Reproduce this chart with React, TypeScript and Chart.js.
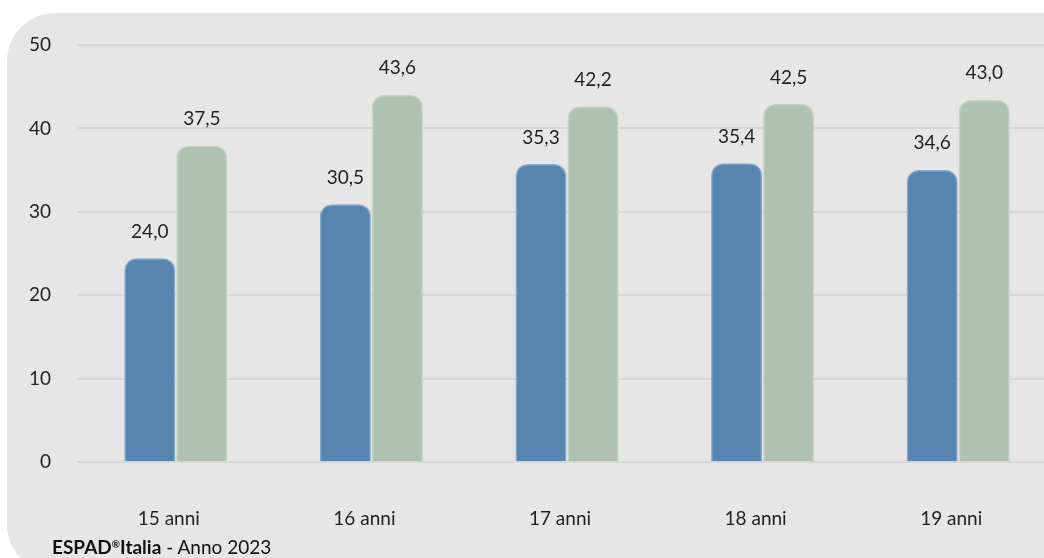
import React, { useEffect, useRef } from "react";
import { Chart, registerables } from "chart.js";

Chart.register(...registerables);

const categories = ["15 anni", "16 anni", "17 anni", "18 anni", "19 anni"];
const seriesA = [24.0, 30.5, 35.3, 35.4, 34.6];
const seriesB = [37.5, 43.6, 42.2, 42.5, 43.0];
const yTicks = [0, 10, 20, 30, 40, 50];

const FONT = "Lato, 'Open Sans', sans-serif";

const valueLabels = {
  id: "valueLabels",
  afterDatasetsDraw(chart: any) {
    const ctx = chart.ctx;
    ctx.save();
    ctx.font = `19px ${FONT}`;
    ctx.fillStyle = "#1f1f1f";
    ctx.textAlign = "center";
    ctx.textBaseline = "alphabetic";
    chart.data.datasets.forEach((ds: any, di: number) => {
      const meta = chart.getDatasetMeta(di);
      meta.data.forEach((bar: any, i: number) => {
        const v = ds.data[i] as number;
        ctx.fillText(v.toFixed(1).replace(".", ","), bar.x, bar.y - 24);
      });
    });
    ctx.restore();
  },
};

export default function App() {
  const ref = useRef<HTMLCanvasElement | null>(null);

  useEffect(() => {
    if (!ref.current) return;
    const barStyle = {
      borderWidth: 1.5,
      borderRadius: { topLeft: 12, topRight: 12, bottomLeft: 0, bottomRight: 0 },
      borderSkipped: "bottom",
      categoryPercentage: 0.532,
      barPercentage: 0.846,
      inflateAmount: 3.5,
    };
    const chart = new Chart(ref.current, {
      type: "bar",
      data: {
        labels: categories,
        datasets: [
          {
            label: "A",
            data: seriesA,
            backgroundColor: "#5885b0",
            borderColor: "#86a8cb",
            ...barStyle,
          } as any,
          {
            label: "B",
            data: seriesB,
            backgroundColor: "#afc2b2",
            borderColor: "#c3d2c5",
            ...barStyle,
          } as any,
        ],
      },
      options: {
        responsive: false,
        animation: false,
        layout: { padding: { top: 45, left: 0, right: 0, bottom: 0 } },
        plugins: {
          legend: { display: false },
          tooltip: { enabled: false },
        },
        scales: {
          x: {
            grid: { display: false, drawTicks: false },
            border: { display: false },
            ticks: {
              color: "#1f1f1f",
              font: { family: FONT, size: 19 },
              padding: 45,
              labelOffset: -7,
            },
            afterFit(scale: any) {
              scale.height = 558 - 462;
            },
          },
          y: {
            min: 0,
            max: 50,
            afterBuildTicks(scale: any) {
              scale.ticks = yTicks.map((v) => ({ value: v }));
            },
            grid: { color: "#d6d6d6", lineWidth: 2, drawTicks: false },
            border: { display: false },
            ticks: {
              color: "#1f1f1f",
              font: { family: FONT, size: 19 },
              padding: 27,
            },
            afterFit(scale: any) {
              scale.width = 78;
            },
          },
        },
      },
      plugins: [valueLabels],
    });
    return () => chart.destroy();
  }, []);

  return (
    <div
      style={{
        position: "fixed",
        left: 0,
        top: 0,
        width: 1044,
        height: 558,
        overflow: "hidden",
        background: "#ffffff",
      }}
    >
      <div
        style={{
          position: "absolute",
          left: 7,
          top: 13,
          width: 1120,
          height: 560,
          borderRadius: 48,
          background: "#e6e6e6",
        }}
      />
      <canvas
        ref={ref}
        width={1056}
        height={558}
        style={{ position: "absolute", left: 0, top: 0, display: "block" }}
      />
      <div
        style={{
          position: "absolute",
          left: 52,
          top: 536,
          fontFamily: FONT,
          fontSize: 19,
          color: "#111",
          whiteSpace: "nowrap",
          lineHeight: "22px",
        }}
      >
        <b>ESPAD</b>
        <sup style={{ fontSize: 10, fontWeight: 700, verticalAlign: "top", lineHeight: "16px" }}>®</sup>
        <b>Italia</b> - Anno 2023
      </div>
    </div>
  );
}
